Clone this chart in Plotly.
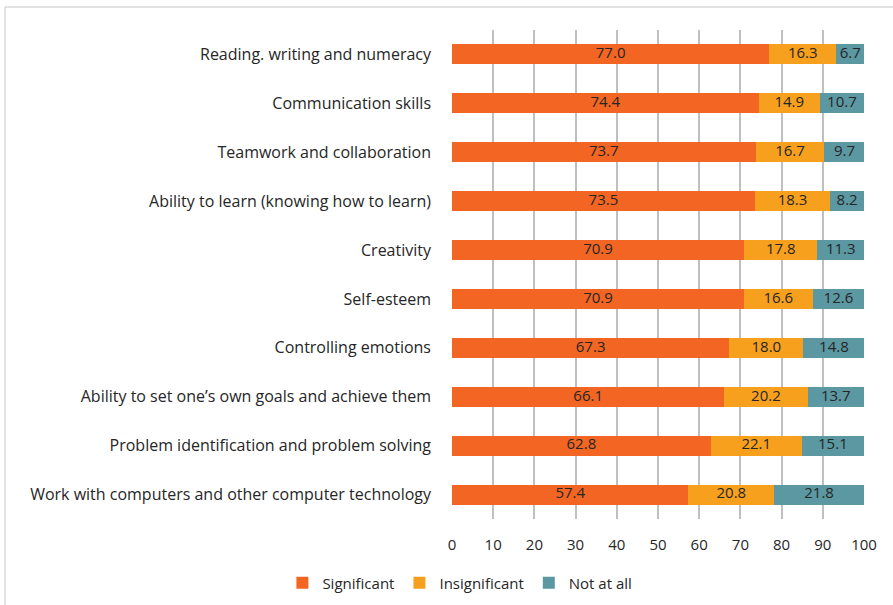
import plotly.graph_objects as go

categories = [
    "Reading. writing and numeracy",
    "Communication skills",
    "Teamwork and collaboration",
    "Ability to learn (knowing how to learn)",
    "Creativity",
    "Self-esteem",
    "Controlling emotions",
    "Ability to set one\u2019s own goals and achieve them",
    "Problem identification and problem solving",
    "Work with computers and other computer technology",
]
significant = [77.0, 74.4, 73.7, 73.5, 70.9, 70.9, 67.3, 66.1, 62.8, 57.4]
insignificant = [16.3, 14.9, 16.7, 18.3, 17.8, 16.6, 18.0, 20.2, 22.1, 20.8]
not_at_all = [6.7, 10.7, 9.7, 8.2, 11.3, 12.6, 14.8, 13.7, 15.1, 21.8]
x_ticks = [0, 10, 20, 30, 40, 50, 60, 70, 80, 90, 100]

FONT = "Open Sans"
TXT = "#262626"
series = [
    ("Significant", significant, "#F26522"),
    ("Insignificant", insignificant, "#F7A01E"),
    ("Not at all", not_at_all, "#5B98A2"),
]

W, H = 893, 605
ML, MR, MT, MB = 452, 29, 30, 86
PW, PH = W - ML - MR, H - MT - MB

fig = go.Figure()
base = [0.0] * len(categories)
for name, vals, color in series:
    fig.add_trace(go.Bar(
        y=categories, x=vals, name=name, orientation="h",
        marker=dict(color=color, line=dict(width=0)),
        width=0.41, hoverinfo="x+y",
    ))
    mids = [b + v / 2 for b, v in zip(base, vals)]
    fig.add_trace(go.Scatter(
        y=categories, x=mids, mode="text", text=[f"{v:.1f}" for v in vals],
        textposition="middle center", showlegend=False, hoverinfo="skip",
        textfont=dict(family=FONT, size=15, color=TXT),
    ))
    base = [b + v for b, v in zip(base, vals)]

fig.update_layout(
    barmode="stack",
    width=W, height=H,
    margin=dict(l=ML, r=MR, t=MT, b=MB, autoexpand=False),
    paper_bgcolor="white", plot_bgcolor="white",
    font=dict(family=FONT, size=15, color=TXT),
    xaxis=dict(
        range=[0, 100], tickvals=x_ticks, showgrid=True,
        gridcolor="#BFBFBF", gridwidth=1.5, zeroline=False,
        showline=False, ticks="", ticklabelstandoff=15,
        tickfont=dict(size=15, family=FONT, color=TXT),
    ),
    yaxis=dict(
        autorange="reversed", showgrid=False, showline=False, ticks="",
        ticklabelstandoff=20, tickfont=dict(size=16, family=FONT, color=TXT),
    ),
    legend=dict(
        orientation="h", x=0.515, xanchor="center", xref="container",
        y=(H - 583) / H, yref="container", yanchor="middle",
        font=dict(size=15, family=FONT, color=TXT),
        traceorder="normal", itemwidth=30,
    ),
    showlegend=True,
)
# thin frame lines at top and left of the chart area
fig.add_shape(type="line", xref="paper", yref="paper",
              x0=-(ML - 5) / PW, x1=1 + MR / PW, y0=1 + (MT - 7) / PH, y1=1 + (MT - 7) / PH,
              line=dict(color="#D9D9D9", width=1.5))
fig.add_shape(type="line", xref="paper", yref="paper",
              x0=-(ML - 5) / PW, x1=-(ML - 5) / PW, y0=-MB / PH, y1=1 + (MT - 7) / PH,
              line=dict(color="#D9D9D9", width=1.5))

fig.write_html("out.html", config={"displayModeBar": False},
               post_script="document.body.style.margin='0';")
